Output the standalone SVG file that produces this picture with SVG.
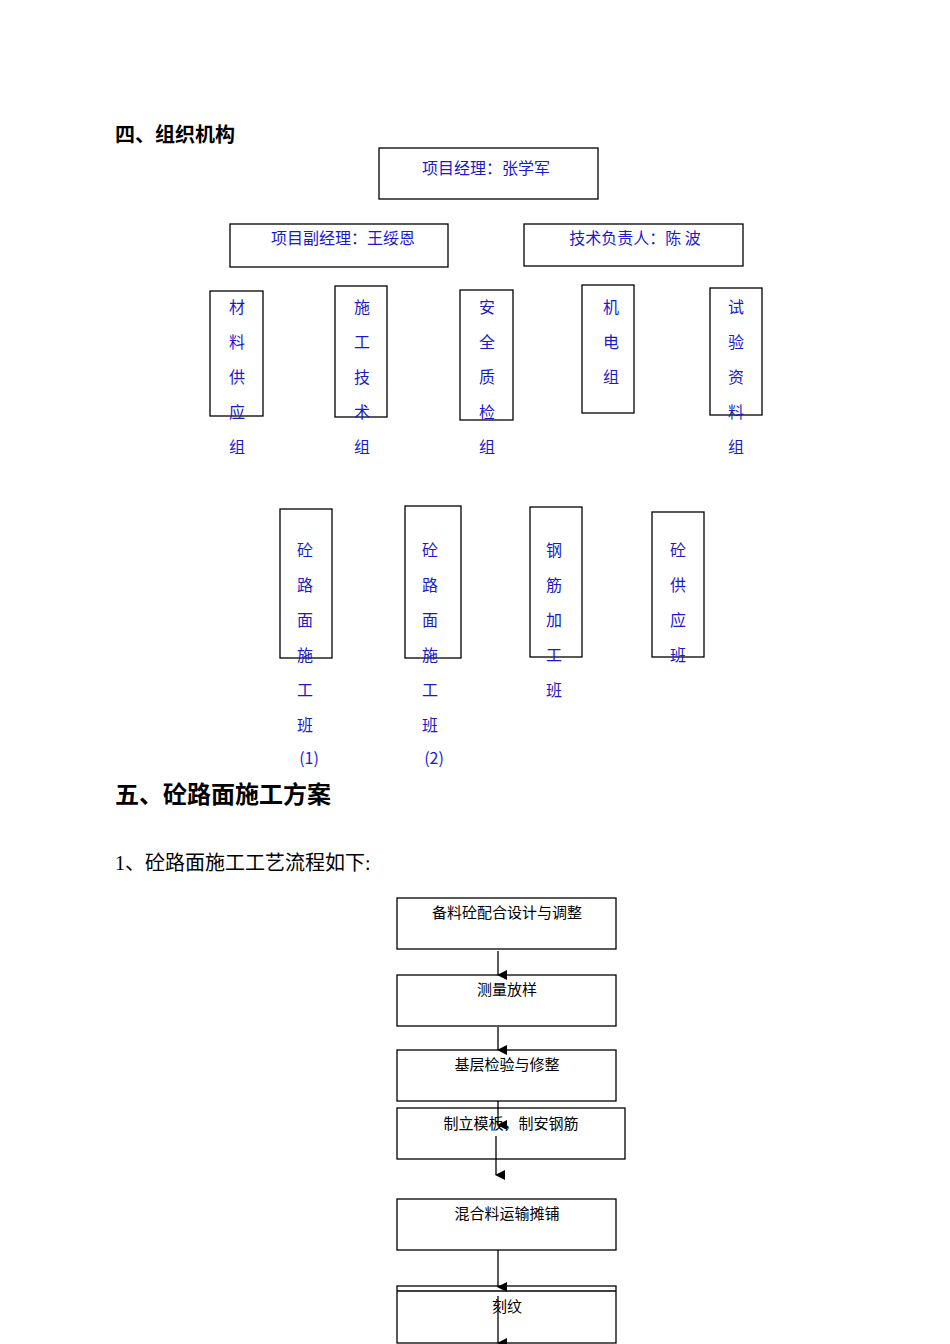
<svg xmlns="http://www.w3.org/2000/svg" width="950" height="1344" viewBox="0 0 950 1344">
<defs><marker id="ah" markerWidth="10" markerHeight="10" refX="5" refY="9" orient="auto" markerUnits="userSpaceOnUse"><path d="M0,0 L10,0 L5,10 Z" fill="#000"/></marker></defs>
<style>
.b{fill:#fff;stroke:#000;stroke-width:1.3}
.o{font-family:"Noto Sans CJK SC",sans-serif;font-size:16px;fill:#1a1acc;text-anchor:middle}
.f{font-family:"Liberation Sans","Noto Sans CJK SC",sans-serif;font-size:15px;fill:#000;text-anchor:middle}
.h{font-family:"Liberation Serif","Noto Sans CJK SC",serif;fill:#000;font-weight:bold}
.c{stroke:#000;stroke-width:1.3;fill:none;marker-end:url(#ah)}
</style>
<rect width="950" height="1344" fill="#fff"/>
<text class="h" x="115" y="142" font-size="20">四、组织机构</text>
<text class="h" x="115" y="803" font-size="24">五、砼路面施工方案</text>
<text x="115" y="870" font-family="Liberation Serif,'Noto Sans CJK SC',serif" font-size="20">1、砼路面施工工艺流程如下:</text>
<g id="pm"><rect class="b" x="379" y="148" width="219" height="51"/><text class="o" x="486" y="174">项目经理：张学军</text></g>
<g id="dpm"><rect class="b" x="230" y="224" width="218" height="43"/><text class="o" x="343" y="244">项目副经理：王绥恩</text></g>
<g id="tech"><rect class="b" x="524" y="224" width="219" height="42"/><text class="o" x="635" y="244">技术负责人：陈 波</text></g>
<g id="g1"><rect class="b" x="210" y="291" width="53" height="125"/><text class="o" x="237"><tspan x="237" y="313">材</tspan><tspan x="237" y="348">料</tspan><tspan x="237" y="383">供</tspan><tspan x="237" y="418">应</tspan><tspan x="237" y="453">组</tspan></text></g>
<g id="g2"><rect class="b" x="335" y="286" width="52" height="131"/><text class="o"><tspan x="362" y="313">施</tspan><tspan x="362" y="348">工</tspan><tspan x="362" y="383">技</tspan><tspan x="362" y="418">术</tspan><tspan x="362" y="453">组</tspan></text></g>
<g id="g3"><rect class="b" x="460" y="290" width="53" height="130"/><text class="o"><tspan x="487" y="313">安</tspan><tspan x="487" y="348">全</tspan><tspan x="487" y="383">质</tspan><tspan x="487" y="418">检</tspan><tspan x="487" y="453">组</tspan></text></g>
<g id="g4"><rect class="b" x="582" y="285" width="52" height="128"/><text class="o"><tspan x="611" y="313">机</tspan><tspan x="611" y="348">电</tspan><tspan x="611" y="383">组</tspan></text></g>
<g id="g5"><rect class="b" x="710" y="288" width="52" height="127"/><text class="o"><tspan x="736" y="313">试</tspan><tspan x="736" y="348">验</tspan><tspan x="736" y="383">资</tspan><tspan x="736" y="418">料</tspan><tspan x="736" y="453">组</tspan></text></g>
<g id="t1"><rect class="b" x="280" y="509" width="52" height="149"/><text class="o"><tspan x="305" y="556">砼</tspan><tspan x="305" y="591">路</tspan><tspan x="305" y="626">面</tspan><tspan x="305" y="661">施</tspan><tspan x="305" y="696">工</tspan><tspan x="305" y="731">班</tspan><tspan x="309" y="764">(1)</tspan></text></g>
<g id="t2"><rect class="b" x="405" y="506" width="56" height="152"/><text class="o"><tspan x="430" y="556">砼</tspan><tspan x="430" y="591">路</tspan><tspan x="430" y="626">面</tspan><tspan x="430" y="661">施</tspan><tspan x="430" y="696">工</tspan><tspan x="430" y="731">班</tspan><tspan x="434" y="764">(2)</tspan></text></g>
<g id="t3"><rect class="b" x="530" y="507" width="52" height="150"/><text class="o"><tspan x="554" y="556">钢</tspan><tspan x="554" y="591">筋</tspan><tspan x="554" y="626">加</tspan><tspan x="554" y="661">工</tspan><tspan x="554" y="696">班</tspan></text></g>
<g id="t4"><rect class="b" x="652" y="512" width="52" height="145"/><text class="o"><tspan x="678" y="556">砼</tspan><tspan x="678" y="591">供</tspan><tspan x="678" y="626">应</tspan><tspan x="678" y="661">班</tspan></text></g>
<g id="s1"><rect class="b" x="397" y="898" width="219" height="51"/><text class="f" x="507" y="918">备料砼配合设计与调整</text></g>
<g id="s2"><rect class="b" x="397" y="975" width="219" height="51"/><text class="f" x="507" y="995">测量放样</text></g>
<g id="s3"><rect class="b" x="397" y="1050" width="219" height="51"/><text class="f" x="507" y="1070">基层检验与修整</text></g>
<g id="s4"><rect class="b" x="397" y="1108" width="228" height="51"/><text class="f" x="511" y="1129">制立模板，制安钢筋</text></g>
<g id="s5"><rect class="b" x="397" y="1199" width="219" height="51"/><text class="f" x="507" y="1219">混合料运输摊铺</text></g>
<g id="s6"><rect class="b" x="397" y="1286" width="219" height="57"/><line x1="397" y1="1291" x2="616" y2="1291" stroke="#000" stroke-width="1.3"/><text class="f" x="507" y="1312">刻纹</text></g>
<g id="connectors">
<line class="c" x1="498" y1="951" x2="498" y2="975"/>
<line class="c" x1="498" y1="1027" x2="498" y2="1050"/>
<line class="c" x1="498" y1="1101" x2="498" y2="1125"/>
<line class="c" x1="496" y1="1136" x2="496" y2="1175"/>
<line class="c" x1="498" y1="1250" x2="498" y2="1287"/>
<line class="c" x1="498" y1="1296" x2="498" y2="1343"/>
</g>
</svg>
